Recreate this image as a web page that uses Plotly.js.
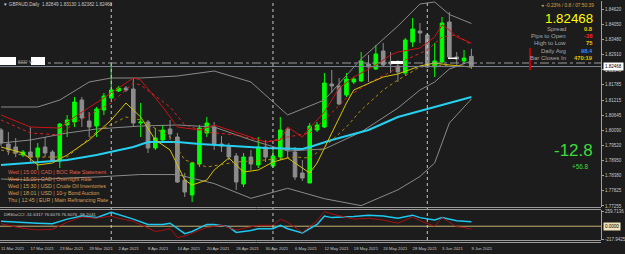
<!DOCTYPE html>
<html><head><meta charset="utf-8">
<script src="https://cdn.plot.ly/plotly-3.0.1.min.js"></script>
<style>html,body{margin:0;padding:0;background:#1c1c1c;}#c{width:625px;height:254px;}</style>
</head><body><div id="c"></div>
<script>
// ---- data ----
const tickIdx = [0,4,8,12,16,20,24,28,32,36,40,44,48,52,56,60,64];
const tickLabels = ["11 Mar 2021","17 Mar 2021","23 Mar 2021","29 Mar 2021","2 Apr 2021","8 Apr 2021","14 Apr 2021","20 Apr 2021","26 Apr 2021","30 Apr 2021","6 May 2021","12 May 2021","18 May 2021","24 May 2021","28 May 2021","3 Jun 2021","9 Jun 2021"];
const monthStarts = [15,37,58];

const openP = [1.80095,1.79571,1.79459,1.79160,1.79272,1.79085,1.79459,1.79272,1.78935,1.80282,
1.80394,1.81217,1.80431,1.80244,1.80843,1.81291,1.81553,1.81665,1.81628,1.80356,
1.80394,1.79421,1.79721,1.80132,1.79833,1.78225,1.77664,1.78823,1.79982,1.80207,
1.79571,1.79459,1.79122,1.78075,1.79085,1.78786,1.79459,1.78748,1.79085,1.80132,
1.79272,1.78486,1.78112,1.80095,1.80207,1.81815,1.81740,1.81404,1.81890,1.81927,
1.82563,1.82376,1.83049,1.82638,1.82488,1.82226,1.83386,1.83797,1.83648,1.82451,
1.82638,1.84134,1.82825,1.82675,1.82849];
const highP = [1.80169,1.80020,1.79795,1.79347,1.80207,1.79608,1.79833,1.79347,1.80356,1.80656,
1.81329,1.81329,1.80768,1.80955,1.81478,1.82638,1.81740,1.81740,1.82039,1.81104,
1.80469,1.80169,1.80282,1.80469,1.79982,1.78486,1.78898,1.80282,1.80581,1.80394,
1.79870,1.79608,1.79234,1.79234,1.79347,1.79833,1.79721,1.79347,1.80581,1.80207,
1.79459,1.78973,1.80356,1.80394,1.82226,1.82339,1.82039,1.82226,1.82077,1.83012,
1.82900,1.83274,1.83348,1.83012,1.82713,1.83535,1.84283,1.84096,1.83722,1.83348,
1.84321,1.84508,1.83012,1.83087,1.83130];
const lowP = [1.79496,1.79160,1.79085,1.79085,1.78898,1.78599,1.79085,1.78898,1.78673,1.79833,
1.80207,1.80207,1.79833,1.79833,1.80656,1.81254,1.81516,1.81516,1.80207,1.79833,
1.79234,1.79347,1.79608,1.79721,1.78112,1.77589,1.77402,1.78711,1.79833,1.79347,
1.79272,1.78973,1.77851,1.77963,1.78599,1.78673,1.78898,1.78673,1.78973,1.79047,
1.78225,1.78187,1.78112,1.80020,1.80169,1.81478,1.81030,1.81329,1.81815,1.81890,
1.81890,1.82339,1.82451,1.82226,1.81890,1.82152,1.83199,1.83348,1.82413,1.82077,
1.82600,1.82787,1.82526,1.82563,1.82382];
const closeP = [1.79608,1.79347,1.79234,1.79272,1.79085,1.79421,1.79234,1.78935,1.80319,1.80469,
1.81142,1.80543,1.80207,1.80880,1.81366,1.81591,1.81665,1.81591,1.80356,1.80394,
1.79421,1.79795,1.80095,1.79945,1.78150,1.77776,1.78860,1.80169,1.80356,1.79534,
1.79496,1.79085,1.78150,1.79085,1.78823,1.79459,1.79085,1.79122,1.80095,1.79347,
1.78337,1.78299,1.80244,1.80282,1.81852,1.81740,1.81067,1.82002,1.82002,1.82675,
1.82451,1.82937,1.82526,1.82563,1.82264,1.83461,1.83872,1.83722,1.82451,1.82675,
1.84096,1.82825,1.82750,1.82787,1.82468];

const bbUpIdx = [0,5,8,12,15,19,24,29,34,39,44,49,54,57,59,61,64];
const bbUp = [1.80955,1.80955,1.81217,1.81890,1.82039,1.82039,1.82114,1.82301,1.81890,1.80656,1.81217,1.82750,1.83984,1.84807,1.84882,1.84414,1.84078];
const bbMidIdx = [0,4,9,13,19,24,29,34,39,44,49,54,57,59,61,64];
const bbMid = [1.79608,1.79721,1.79982,1.80132,1.80244,1.80282,1.80207,1.79721,1.79309,1.79384,1.80020,1.80917,1.81591,1.81890,1.82376,1.82675];
const bbLowIdx = [0,4,9,13,19,24,29,34,39,44,49,54,57,59,61,64];
const bbLow = [1.78262,1.78225,1.78299,1.78337,1.78430,1.78427,1.78090,1.77540,1.77914,1.77525,1.77267,1.77858,1.78356,1.78864,1.80356,1.81254];

const redIdx = [0,4,8,10,15,18,19,22,24,27,29,32,34,36,38,39,41,42,44,46,48,51,53,54,57,59,60,61,62,64];
const redLine = [1.80656,1.80207,1.80169,1.80581,1.81478,1.82039,1.81965,1.80955,1.80207,1.80095,1.80282,1.80020,1.79833,1.79646,1.79721,1.80207,1.79833,1.80169,1.80768,1.81665,1.82077,1.82526,1.82900,1.83012,1.83161,1.83573,1.84022,1.83835,1.83573,1.83348];
const redDotIdx = [0,4,8,10,15,18,19,23,25,28,32,36,39,42,44,47,50,53,55,58,60,62,64];
const redDot = [1.80469,1.79982,1.79908,1.80356,1.81104,1.81852,1.81778,1.80955,1.80282,1.80020,1.79908,1.79646,1.79833,1.79982,1.80469,1.81291,1.81852,1.82264,1.82713,1.83087,1.83573,1.83648,1.83274];

const yelIdx = [0,3,5,7,9,12,15,17,19,21,23,25,26,28,29,31,33,35,37,39,41,42,43,45,47,48,51,52,54,57,59,61,64];
const yelLine = [1.79459,1.79234,1.78786,1.78860,1.79160,1.79721,1.80469,1.81104,1.80581,1.79721,1.79347,1.78225,1.78038,1.78225,1.78599,1.79047,1.78524,1.78599,1.78898,1.79047,1.78673,1.78486,1.78860,1.79982,1.81104,1.81591,1.81965,1.82077,1.82189,1.82488,1.82600,1.82526,1.82451];
const yelDotIdx = [0,4,9,13,17,19,23,25,28,32,36,40,42,44,47,49,52,54,57,60,64];
const yelDot = [1.79347,1.79085,1.79085,1.80020,1.80581,1.80469,1.79833,1.78973,1.78711,1.78898,1.78973,1.79085,1.79047,1.79459,1.80207,1.80843,1.81591,1.81965,1.82451,1.82526,1.82451];

const cyanIdx = [0,4,9,13,18,20,24,27,32,36,41,42,45,50,54,59,64];
const cyanLine = [1.78786,1.78860,1.78973,1.79160,1.79459,1.79646,1.79646,1.79571,1.79496,1.79421,1.79384,1.79459,1.79721,1.80095,1.80581,1.80955,1.81329];

const cciAIdx = [0,2,5,7,9,11,13,15,16,18,20,22,23,25,26,28,29,31,32,34,35,37,38,39,41,43,44,45,48,50,52,54,56,57,59,60,62,63,64];
const cciA = [84,68,52,42,121,173,147,236,200,121,31,31,52,-126,-89,31,31,-10,-105,-73,-42,-42,16,-42,-115,31,173,147,168,189,173,136,189,147,105,147,94,84,77];
const cciBIdx = [0,3,5,7,9,11,13,15,16,18,21,22,23,24,25,28,30,32,35,37,38,39,41,43,44,45,48,50,52,54,56,57,59,60,62,63,64];
const cciB = [42,-37,-63,-52,68,158,136,173,136,84,-89,-73,-37,-194,-168,-21,16,-63,16,16,121,68,-105,94,252,210,121,136,105,52,158,94,0,147,-10,-21,-52];

const mainTicks = [1.84620,1.84050,1.83480,1.82910,1.82340,1.81785,1.81215,1.80645,1.80090,1.79520,1.78950,1.78380,1.77825,1.77255];
const cciTicks = [259.7136,-217.9425];
const bidPrice = 1.82468;
const levelLine = 1.82600;

const events = [
 ["Wed | 15:00 | CAD | BOC Rate Statement","#e0604a"],
 ["Wed | 15:00 | CAD | Overnight Rate","#e08a4a"],
 ["Wed | 15:30 | USD | Crude Oil Inventories","#d8a05a"],
 ["Wed | 18:01 | USD | 10-y Bond Auction","#d8a05a"],
 ["Thu | 12:45 | EUR | Main Refinancing Rate","#d8a05a"]
];
const infoRows = [["Spread","0.8","#e8d000"],["Pips to Open","-38","#ff2020"],["High to Low","75","#e8d000"],["Daily Avg","98.4","#2a8cff"],["Bar Closes In","470:19","#e8c000"]];

// ---- figure ----
const W = 601, H = 254;
const px = v => v / W, py = v => 1 - v / H;
const idx = openP.map((_, i) => i);
const F = "Liberation Sans, Arial, sans-serif";

function line(xs, ys, color, width, dash, yaxis){
  return {type:'scatter', mode:'lines', x:xs, y:ys, xaxis:'x', yaxis:yaxis||'y',
          line:{color:color, width:width, dash:dash||'solid'}, hoverinfo:'skip', showlegend:false};
}

const traces = [
  line(bbUpIdx, bbUp, '#8a8a8a', 1),
  line(bbMidIdx, bbMid, '#8a8a8a', 1),
  line(bbLowIdx, bbLow, '#8a8a8a', 1),
  line(cyanIdx, cyanLine, '#25d0f0', 2),
  line(redIdx, redLine, '#c81414', 1),
  line(redDotIdx, redDot, '#e02020', 1, 'dot'),
  line(yelIdx, yelLine, '#d8c400', 1),
  line(yelDotIdx, yelDot, '#b08a10', 1, 'dot'),
  {type:'candlestick', x:idx, open:openP, high:highP, low:lowP, close:closeP, xaxis:'x', yaxis:'y',
   increasing:{line:{color:'#00ff00', width:1}, fillcolor:'#00ff00'},
   decreasing:{line:{color:'#8c8c8c', width:1}, fillcolor:'#8c8c8c'},
   whiskerwidth:0, showlegend:false, hoverinfo:'skip'},
  line(cciAIdx, cciA, '#1ec8f0', 1.5, 'solid', 'y2'),
  line(cciBIdx, cciB, '#a81010', 1, 'solid', 'y2')
];

const shapes = [];
monthStarts.forEach(m => shapes.push({type:'line', xref:'x', yref:'paper', x0:m, x1:m, y0:py(240), y1:1,
  line:{color:'#c8c8c8', width:1, dash:'dot'}}));
[207.5, 209.5, 240.5, 242.5].forEach(v => shapes.push({type:'line', xref:'paper', yref:'paper', x0:0, x1:1, y0:py(v), y1:py(v),
  line:{color:'#9a9a9a', width:1}}));
shapes.push({type:'line', xref:'paper', yref:'y', x0:0, x1:1, y0:levelLine, y1:levelLine, line:{color:'#9a9a9a', width:1, dash:'dashdot'}});
shapes.push({type:'line', xref:'paper', yref:'y', x0:0, x1:1, y0:bidPrice, y1:bidPrice, line:{color:'#7c8494', width:1}});
shapes.push({type:'line', xref:'paper', yref:'y2', x0:0, x1:1, y0:0, y1:0, layer:'below', line:{color:'#c8b070', width:1}});
// white label boxes & markers
shapes.push({type:'rect', xref:'paper', yref:'paper', x0:px(0), x1:px(16), y0:py(65), y1:py(57), fillcolor:'#ffffff', line:{width:0}});
shapes.push({type:'rect', xref:'paper', yref:'paper', x0:px(31), x1:px(45), y0:py(65), y1:py(57), fillcolor:'#ffffff', line:{width:0}});
shapes.push({type:'rect', xref:'paper', yref:'paper', x0:px(391), x1:px(403), y0:py(64), y1:py(61), fillcolor:'#ffffff', line:{width:0}});
shapes.push({type:'rect', xref:'paper', yref:'paper', x0:px(448), x1:px(457), y0:py(59), y1:py(57.5), fillcolor:'#ffffff', line:{width:0}});
shapes.push({type:'line', xref:'paper', yref:'paper', x0:px(530), x1:px(530), y0:py(70), y1:py(48), line:{color:'#c00000', width:2}});

const ann = [];
function A(o){ ann.push(Object.assign({xref:'paper', yref:'paper', showarrow:false, borderpad:0}, o)); }
A({x:px(2), y:py(5), xanchor:'left', yanchor:'middle', text:'▼ GBPAUD,Daily  1.82849 1.83130 1.82382 1.82468', font:{family:F, size:4.6, color:'#c8c8c8'}});
A({x:px(17), y:py(61), xanchor:'left', yanchor:'middle', text:'8332 lo', font:{family:F, size:4.4, color:'#b0b0b0'}});
A({x:px(595), y:py(6), xanchor:'right', yanchor:'middle', text:'◂ -0.23% / 0.8 / 07:50:39', font:{family:F, size:4.8, color:'#d9a441'}});
A({x:px(594), y:py(18.5), xanchor:'right', yanchor:'middle', text:'1.82468', font:{family:F, size:13.3, color:'#ffff00'}});
const rowY = [29,36,43,51,58];
infoRows.forEach((r, k) => {
  A({x:px(567), y:py(rowY[k]), xanchor:'right', yanchor:'middle', text:r[0], font:{family:F, size:6, color:'#a8a8a8'}});
  A({x:px(594), y:py(rowY[k]), xanchor:'right', yanchor:'middle', text:'<b>'+r[1]+'</b>', font:{family:F, size:5.8, color:r[2]}});
});
A({x:px(594), y:py(150.5), xanchor:'right', yanchor:'middle', text:'-12.8', font:{family:F, size:17, color:'#3cdc3c'}});
A({x:px(590), y:py(166), xanchor:'right', yanchor:'middle', text:'+56.8', font:{family:F, size:6.4, color:'#3cdc3c'}});
const evY = [172,179,186,193,200];
events.forEach((e, k) => A({x:px(7), y:py(evY[k]), xanchor:'left', yanchor:'middle', text:e[0], font:{family:F, size:5.3, color:e[1]}}));
A({x:px(3), y:py(214), xanchor:'left', yanchor:'middle', text:'DRSIaCCI -51.6317 76.6076 76.6076 -59.2041', font:{family:F, size:4.4, color:'#c8c8c8'}});
A({x:px(603), y:py(66), xanchor:'left', yanchor:'middle', text:'1.82468', bgcolor:'#ffffff', borderpad:1, font:{family:F, size:4.5, color:'#000000'}});
A({x:px(603), y:py(226), xanchor:'left', yanchor:'middle', text:'0.0000', bgcolor:'#f0e2b8', borderpad:1, font:{family:F, size:4.5, color:'#000000'}});

const layout = {
  width:625, height:254, margin:{l:0, r:24, t:0, b:0},
  paper_bgcolor:'#1c1c1c', plot_bgcolor:'#1c1c1c', showlegend:false,
  xaxis:{anchor:'y2', range:[-0.136, 81.63], rangeslider:{visible:false}, showgrid:false, zeroline:false,
         tickmode:'array', tickvals:tickIdx, ticktext:tickLabels, ticks:'', tickangle:0, ticklabelposition:'outside right',
         ticklabelstandoff:5, tickfont:{family:F, size:4.2, color:'#c8c8c8'}, showline:false, fixedrange:true},
  yaxis:{domain:[py(207), py(1)], range:[1.77215, 1.84919], side:'right', showgrid:false, zeroline:false,
         tickmode:'array', tickvals:mainTicks, ticktext:mainTicks.map(v => v.toFixed(5)),
         ticks:'outside', ticklen:2, tickcolor:'#a0a0a0', showline:true, linecolor:'#a0a0a0', linewidth:1,
         tickfont:{family:F, size:4.5, color:'#c8c8c8'}, fixedrange:true},
  yaxis2:{domain:[py(240), py(210)], range:[-235, 277], side:'right', showgrid:false, zeroline:false,
          tickmode:'array', tickvals:cciTicks, ticktext:cciTicks.map(v => v.toFixed(4)),
          ticks:'outside', ticklen:2, tickcolor:'#a0a0a0', showline:true, linecolor:'#a0a0a0', linewidth:1,
          tickfont:{family:F, size:4.5, color:'#c8c8c8'}, fixedrange:true},
  shapes:shapes, annotations:ann
};
Plotly.newPlot('c', traces, layout, {staticPlot:true, displayModeBar:false});
</script></body></html>
